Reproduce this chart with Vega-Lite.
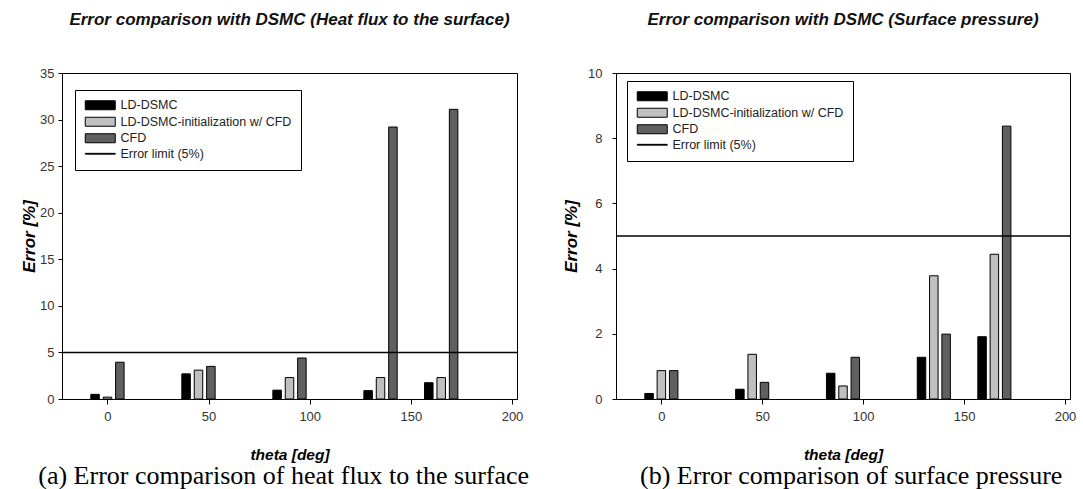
{
  "$schema": "https://vega.github.io/schema/vega-lite/v6.json",
  "padding": {"left": 20, "top": 10, "right": 0, "bottom": 0},
  "background": "white",
  "spacing": 32,
  "resolve": {"scale": {"fill": "independent"}, "legend": {"fill": "independent"}},
  "datasets": {
    "heat": [
      {"theta": 0, "series": "LD-DSMC", "error": 0.5},
      {"theta": 0, "series": "LD-DSMC-initialization w/ CFD", "error": 0.2},
      {"theta": 0, "series": "CFD", "error": 3.95},
      {"theta": 45, "series": "LD-DSMC", "error": 2.7},
      {"theta": 45, "series": "LD-DSMC-initialization w/ CFD", "error": 3.1},
      {"theta": 45, "series": "CFD", "error": 3.5},
      {"theta": 90, "series": "LD-DSMC", "error": 0.95},
      {"theta": 90, "series": "LD-DSMC-initialization w/ CFD", "error": 2.3},
      {"theta": 90, "series": "CFD", "error": 4.4},
      {"theta": 135, "series": "LD-DSMC", "error": 0.9},
      {"theta": 135, "series": "LD-DSMC-initialization w/ CFD", "error": 2.3},
      {"theta": 135, "series": "CFD", "error": 29.2},
      {"theta": 165, "series": "LD-DSMC", "error": 1.75},
      {"theta": 165, "series": "LD-DSMC-initialization w/ CFD", "error": 2.3},
      {"theta": 165, "series": "CFD", "error": 31.1}
    ],
    "pressure": [
      {"theta": 0, "series": "LD-DSMC", "error": 0.17},
      {"theta": 0, "series": "LD-DSMC-initialization w/ CFD", "error": 0.87},
      {"theta": 0, "series": "CFD", "error": 0.87},
      {"theta": 45, "series": "LD-DSMC", "error": 0.3},
      {"theta": 45, "series": "LD-DSMC-initialization w/ CFD", "error": 1.37},
      {"theta": 45, "series": "CFD", "error": 0.51},
      {"theta": 90, "series": "LD-DSMC", "error": 0.79},
      {"theta": 90, "series": "LD-DSMC-initialization w/ CFD", "error": 0.4},
      {"theta": 90, "series": "CFD", "error": 1.28},
      {"theta": 135, "series": "LD-DSMC", "error": 1.28},
      {"theta": 135, "series": "LD-DSMC-initialization w/ CFD", "error": 3.78},
      {"theta": 135, "series": "CFD", "error": 1.99},
      {"theta": 165, "series": "LD-DSMC", "error": 1.91},
      {"theta": 165, "series": "LD-DSMC-initialization w/ CFD", "error": 4.44},
      {"theta": 165, "series": "CFD", "error": 8.37}
    ],
    "limit": [{"limit": 5}]
  },
  "hconcat": [
    {
      "title": {"text": "(a) Error comparison of heat flux to the surface", "orient": "bottom", "font": "Liberation Serif", "fontSize": 26, "fontWeight": "normal", "fontStyle": "normal", "color": "black", "offset": 0, "anchor": "middle", "dx": 12},
      "vconcat": [
        {
          "width": 455,
          "height": 326,
          "title": {"text": "Error comparison with DSMC (Heat flux to the surface)", "fontSize": 17, "fontStyle": "italic", "fontWeight": "bold", "color": "#111", "offset": 38, "frame": "group", "anchor": "middle"},
          "layer": [
            {
              "data": {"name": "heat"},
              "encoding": {
                "x": {"field": "theta", "type": "quantitative", "scale": {"domain": [-20, 200], "nice": false, "zero": false}, "axis": {"values": [0, 50, 100, 150, 200], "title": "theta [deg]", "tickSize": 5, "labelPadding": 6, "titlePadding": 24, "titleFontSize": 15.5}},
                "y": {"field": "error", "type": "quantitative", "scale": {"domain": [0, 35], "nice": false}, "axis": {"values": [0, 5, 10, 15, 20, 25, 30, 35], "title": "Error [%]", "tickSize": 4, "labelPadding": 4, "titlePadding": 1, "titleFontSize": 17}},
                "fill": {"field": "series", "type": "nominal", "scale": {"domain": ["LD-DSMC", "LD-DSMC-initialization w/ CFD", "CFD", "Error limit (5%)"], "range": ["#000000", "#c0c0c0", "#606060", "#000000"]},
                  "legend": {"orient": "none", "legendX": 13, "legendY": 17, "title": null, "strokeColor": "black", "fillColor": "white", "padding": 9, "symbolSize": 100, "symbolStrokeColor": "black", "symbolStrokeWidth": 1, "labelOffset": 24, "labelFontSize": 12.5, "labelColor": "#222", "labelLimit": 0, "rowPadding": 2.5,
                    "encode": {"symbols": {"update": {"shape": {"signal": "datum.value === 'Error limit (5%)' ? 'M-1,-0.08H5V0.08H-1Z' : 'M-1,-0.9H5V0.9H-1Z'"}}}}}}
              },
              "layer": [
                {"transform": [{"filter": "datum.series === 'LD-DSMC'"}], "mark": {"type": "bar", "width": 8.5, "xOffset": -12.4, "stroke": "black", "strokeWidth": 1}},
                {"transform": [{"filter": "datum.series === 'LD-DSMC-initialization w/ CFD'"}], "mark": {"type": "bar", "width": 8.5, "xOffset": 0, "stroke": "black", "strokeWidth": 1}},
                {"transform": [{"filter": "datum.series === 'CFD'"}], "mark": {"type": "bar", "width": 8.5, "xOffset": 12.4, "stroke": "black", "strokeWidth": 1}}
              ]
            },
            {
              "data": {"name": "limit"},
              "mark": {"type": "rule", "color": "black", "strokeWidth": 1.5},
              "encoding": {"y": {"field": "limit", "type": "quantitative"}}
            }
          ]
        }
      ]
    },
    {
      "title": {"text": "(b) Error comparison of surface pressure", "orient": "bottom", "font": "Liberation Serif", "fontSize": 26, "fontWeight": "normal", "fontStyle": "normal", "color": "black", "offset": 0, "anchor": "middle", "dx": 32},
      "vconcat": [
        {
          "width": 454,
          "height": 326,
          "title": {"text": "Error comparison with DSMC (Surface pressure)", "fontSize": 17, "fontStyle": "italic", "fontWeight": "bold", "color": "#111", "offset": 38, "frame": "group", "anchor": "middle"},
          "layer": [
            {
              "data": {"name": "pressure"},
              "encoding": {
                "x": {"field": "theta", "type": "quantitative", "scale": {"domain": [-20, 200], "nice": false, "zero": false}, "axis": {"values": [0, 50, 100, 150, 200], "title": "theta [deg]", "tickSize": 5, "labelPadding": 6, "titlePadding": 24, "titleFontSize": 15.5}},
                "y": {"field": "error", "type": "quantitative", "scale": {"domain": [0, 10], "nice": false}, "axis": {"values": [0, 2, 4, 6, 8, 10], "title": "Error [%]", "tickSize": 4, "labelPadding": 10, "titlePadding": 7, "titleFontSize": 17}},
                "fill": {"field": "series", "type": "nominal", "scale": {"domain": ["LD-DSMC", "LD-DSMC-initialization w/ CFD", "CFD", "Error limit (5%)"], "range": ["#000000", "#c0c0c0", "#606060", "#000000"]},
                  "legend": {"orient": "none", "legendX": 11, "legendY": 8, "title": null, "strokeColor": "black", "fillColor": "white", "padding": 9, "symbolSize": 100, "symbolStrokeColor": "black", "symbolStrokeWidth": 1, "labelOffset": 24, "labelFontSize": 12.5, "labelColor": "#222", "labelLimit": 0, "rowPadding": 2.5,
                    "encode": {"symbols": {"update": {"shape": {"signal": "datum.value === 'Error limit (5%)' ? 'M-1,-0.08H5V0.08H-1Z' : 'M-1,-0.9H5V0.9H-1Z'"}}}}}}
              },
              "layer": [
                {"transform": [{"filter": "datum.series === 'LD-DSMC'"}], "mark": {"type": "bar", "width": 8.5, "xOffset": -12.3, "stroke": "black", "strokeWidth": 1}},
                {"transform": [{"filter": "datum.series === 'LD-DSMC-initialization w/ CFD'"}], "mark": {"type": "bar", "width": 8.5, "xOffset": 0, "stroke": "black", "strokeWidth": 1}},
                {"transform": [{"filter": "datum.series === 'CFD'"}], "mark": {"type": "bar", "width": 8.5, "xOffset": 12.3, "stroke": "black", "strokeWidth": 1}}
              ]
            },
            {
              "data": {"name": "limit"},
              "mark": {"type": "rule", "color": "black", "strokeWidth": 1.5},
              "encoding": {"y": {"field": "limit", "type": "quantitative"}}
            }
          ]
        }
      ]
    }
  ],
  "config": {
    "font": "Liberation Sans",
    "view": {"stroke": "black", "strokeWidth": 1},
    "axis": {"grid": false, "domainColor": "black", "domainWidth": 1, "tickColor": "black", "labelColor": "#333", "labelFontSize": 13, "labelFont": "Liberation Sans", "titleFont": "Liberation Sans", "titleFontSize": 15, "titleFontWeight": "bold", "titleFontStyle": "italic", "titleColor": "black"},
    "title": {"font": "Liberation Sans"}
  }
}
